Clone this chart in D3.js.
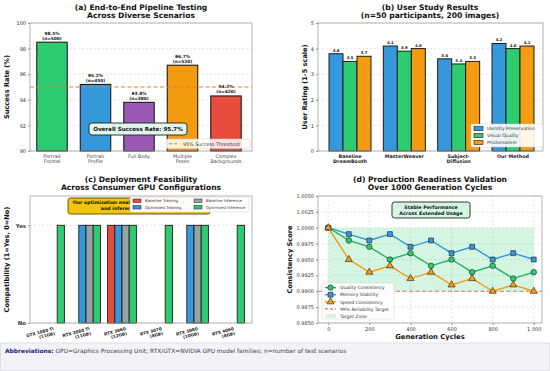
<!DOCTYPE html>
<html>
<head>
<meta charset="utf-8">
<script src="https://cdn.jsdelivr.net/npm/d3@7"></script>
<style>
  body { margin: 0; background: #fff; }
  text { font-family: "DejaVu Sans", sans-serif; }
</style>
</head>
<body>
<svg id="chart" width="550" height="371"></svg>
<script>
// ---- data ----
const scenarios = ['Portrait\nFrontal', 'Portrait\nProfile', 'Full Body', 'Multiple\nPoses', 'Complex\nBackgrounds'];
const successRates = [98.5, 95.2, 93.8, 96.7, 94.3];
const scenarioCounts = [500, 450, 380, 520, 420];
const scenarioColors = ['#2ecc71', '#3498db', '#9b59b6', '#f39c12', '#e74c3c'];
const successThreshold = 95;
const overallRate = 95.7;

const methods = ['Baseline\nDreamBooth', 'MasterWeaver', 'Subject-\nDiffusion', 'Our Method'];
const identityScores = [3.8, 4.1, 3.6, 4.2];
const visualScores = [3.5, 3.9, 3.4, 4.0];
const photoScores = [3.7, 4.0, 3.5, 4.1];

const gpus = ['GTX 1080 Ti\n(11GB)', 'RTX 2080 Ti\n(11GB)', 'RTX 3060\n(12GB)', 'RTX 3070\n(8GB)', 'RTX 3080\n(10GB)', 'RTX 4060\n(8GB)'];
const baselineTraining = [0, 0, 1, 0, 0, 0];
const optimizedTraining = [0, 1, 1, 0, 1, 0];
const baselineInference = [0, 1, 1, 0, 1, 0];
const optimizedInference = [1, 1, 1, 1, 1, 1];

const cycles = [0, 100, 200, 300, 400, 500, 600, 700, 800, 900, 1000];
const qualityConsistency = [1.0, 0.998, 0.997, 0.995, 0.996, 0.994, 0.995, 0.993, 0.994, 0.992, 0.993];
const memoryStability = [1.0, 0.999, 0.998, 0.999, 0.997, 0.998, 0.996, 0.997, 0.995, 0.996, 0.995];
const speedConsistency = [1.0, 0.995, 0.993, 0.994, 0.992, 0.993, 0.991, 0.992, 0.990, 0.991, 0.990];
const reliabilityTarget = 0.99;

const svg = d3.select('#chart');
const EDGE = '#1c1c1c';

// multi-line text helper
function multiText(g, x, y, str, lh, opts = {}) {
    const t = g.append('text')
        .attr('x', x).attr('y', y)
        .attr('text-anchor', opts.anchor || 'middle')
        .attr('font-size', opts.size || 5)
        .attr('font-weight', opts.weight || 'normal')
        .attr('fill', opts.fill || '#333');
    str.split('\n').forEach((line, i) => {
        t.append('tspan').attr('x', x).attr('dy', i === 0 ? 0 : lh).text(line);
    });
    return t;
}

function frame(g, b) {
    g.append('rect')
        .attr('x', b.x0).attr('y', b.y0)
        .attr('width', b.x1 - b.x0).attr('height', b.y1 - b.y0)
        .attr('fill', 'none').attr('stroke', '#a0a0a0').attr('stroke-width', 0.8);
}

function styleAxis(sel, size, bold) {
    sel.select('.domain').remove();
    sel.selectAll('.tick line').attr('stroke', '#555').attr('stroke-width', 0.6);
    sel.selectAll('.tick text')
        .attr('font-size', size)
        .attr('fill', '#333')
        .attr('font-weight', bold ? 'bold' : 'normal')
        .style('font-family', '"DejaVu Sans", sans-serif');
}

function title(g, cx, y, l1, l2) {
    multiText(g, cx, y, l1 + '\n' + l2, 8.6, { size: 7.6, weight: 'bold', fill: '#111' });
}

function yLabel(g, x, cy, str) {
    g.append('text')
        .attr('transform', `translate(${x},${cy}) rotate(-90)`)
        .attr('text-anchor', 'middle')
        .attr('font-size', 6.6).attr('font-weight', 'bold').attr('fill', '#111')
        .text(str);
}

// ---- (a) pipeline testing ----
{
    const b = { x0: 30, x1: 252, y0: 23, y1: 151 };
    const g = svg.append('g');
    const x = d3.scalePoint().domain(scenarios).range([52, 226]);
    const y = d3.scaleLinear().domain([90, 100]).range([b.y1, b.y0]);
    const bw = x.step() * 0.7;

    g.append('g').selectAll('line').data(y.ticks(5)).join('line')
        .attr('x1', b.x0).attr('x2', b.x1)
        .attr('y1', d => y(d)).attr('y2', d => y(d))
        .attr('stroke', '#ccc').attr('stroke-width', 0.5).attr('stroke-dasharray', '2,2');

    g.append('g').selectAll('rect').data(successRates).join('rect')
        .attr('x', (d, i) => x(scenarios[i]) - bw / 2)
        .attr('y', d => y(d))
        .attr('width', bw).attr('height', d => b.y1 - y(d))
        .attr('fill', (d, i) => scenarioColors[i])
        .attr('stroke', EDGE).attr('stroke-width', 1.1);

    successRates.forEach((d, i) => {
        multiText(g, x(scenarios[i]), y(d) - 7.5, `${d}%\n(n=${scenarioCounts[i]})`, 5,
            { size: 4.3, weight: 'bold', fill: '#111' });
    });

    g.append('line')
        .attr('x1', b.x0).attr('x2', b.x1)
        .attr('y1', y(successThreshold)).attr('y2', y(successThreshold))
        .attr('stroke', '#e67e22').attr('stroke-width', 1.1).attr('stroke-dasharray', '4,2.5');

    frame(g, b);
    const ya = g.append('g').attr('transform', `translate(${b.x0},0)`)
        .call(d3.axisLeft(y).tickValues(d3.range(90, 101, 2)).tickSize(2).tickPadding(2));
    styleAxis(ya, 5);

    scenarios.forEach(s => {
        multiText(g, x(s), b.y1 + 6.5, s, 5.6, { size: 4.8, fill: '#444' });
    });

    // overall box
    const ob = g.append('g').attr('transform', 'translate(138,129)');
    ob.append('rect').attr('x', -49).attr('y', -6).attr('width', 98).attr('height', 12).attr('rx', 3)
        .attr('fill', '#e3f6ec').attr('stroke', '#222').attr('stroke-width', 0.9);
    ob.append('text').attr('text-anchor', 'middle').attr('y', 2.2)
        .attr('font-size', 5.6).attr('font-weight', 'bold').attr('fill', '#111')
        .text(`Overall Success Rate: ${overallRate}%`);

    // legend
    const lg = g.append('g').attr('transform', 'translate(166,139)');
    lg.append('rect').attr('width', 84).attr('height', 9.5).attr('rx', 1.5)
        .attr('fill', 'rgba(255,255,255,0.85)').attr('stroke', '#ccc').attr('stroke-width', 0.5);
    lg.append('line').attr('x1', 3).attr('x2', 13).attr('y1', 4.8).attr('y2', 4.8)
        .attr('stroke', '#e67e22').attr('stroke-width', 1.1).attr('stroke-dasharray', '3,2');
    lg.append('text').attr('x', 17).attr('y', 6.6).attr('font-size', 4.8).attr('fill', '#333')
        .text('95% Success Threshold');

    title(g, 141, 9.5, '(a) End-to-End Pipeline Testing', 'Across Diverse Scenarios');
    yLabel(g, 9, (b.y0 + b.y1) / 2, 'Success Rate (%)');
}

// ---- (b) user study ----
{
    const b = { x0: 318, x1: 543, y0: 23, y1: 151 };
    const g = svg.append('g');
    const x = d3.scalePoint().domain(methods).range([350, 513]);
    const y = d3.scaleLinear().domain([0, 5]).range([b.y1, b.y0]);
    const bw = 14;
    const series = [
        { name: 'Identity Preservation', vals: identityScores, color: '#3498db' },
        { name: 'Visual Quality', vals: visualScores, color: '#2ecc71' },
        { name: 'Photorealism', vals: photoScores, color: '#f39c12' }
    ];

    g.append('g').selectAll('line').data(d3.range(0, 6)).join('line')
        .attr('x1', b.x0).attr('x2', b.x1)
        .attr('y1', d => y(d)).attr('y2', d => y(d))
        .attr('stroke', '#ccc').attr('stroke-width', 0.5).attr('stroke-dasharray', '2,2');

    series.forEach((s, si) => {
        const off = (si - 1) * bw;
        g.append('g').selectAll('rect').data(s.vals).join('rect')
            .attr('x', (d, i) => x(methods[i]) + off - bw / 2)
            .attr('y', d => y(d))
            .attr('width', bw).attr('height', d => b.y1 - y(d))
            .attr('fill', s.color).attr('stroke', EDGE).attr('stroke-width', 1);
        s.vals.forEach((d, i) => {
            g.append('text').attr('x', x(methods[i]) + off).attr('y', y(d) - 2)
                .attr('text-anchor', 'middle').attr('font-size', 3.8).attr('font-weight', 'bold')
                .attr('fill', '#111').text(d.toFixed(1));
        });
    });

    frame(g, b);
    const ya = g.append('g').attr('transform', `translate(${b.x0},0)`)
        .call(d3.axisLeft(y).ticks(5).tickSize(2).tickPadding(2));
    styleAxis(ya, 5);

    methods.forEach(m => {
        multiText(g, x(m), b.y1 + 6.5, m, 5.6, { size: 4.8, weight: 'bold', fill: '#222' });
    });

    const lg = g.append('g').attr('transform', 'translate(471,124)');
    lg.append('rect').attr('width', 72).attr('height', 23).attr('rx', 1.5)
        .attr('fill', 'rgba(255,255,255,0.9)').attr('stroke', '#ccc').attr('stroke-width', 0.5);
    series.forEach((s, i) => {
        lg.append('rect').attr('x', 3).attr('y', 2.6 + i * 7).attr('width', 9).attr('height', 4)
            .attr('fill', s.color).attr('stroke', EDGE).attr('stroke-width', 0.6);
        lg.append('text').attr('x', 16).attr('y', 6.4 + i * 7).attr('font-size', 4.6).attr('fill', '#333')
            .text(s.name);
    });

    title(g, 430, 9.5, '(b) User Study Results', '(n=50 participants, 200 images)');
    yLabel(g, 307, (b.y0 + b.y1) / 2, 'User Rating (1-5 scale)');
}

// ---- (c) deployment feasibility ----
{
    const b = { x0: 30, x1: 252, y0: 196, y1: 323 };
    const g = svg.append('g');
    const x = d3.scalePoint().domain(gpus).range([50, 230]);
    const y = d3.scaleLinear().domain([0, 1.3]).range([b.y1, b.y0]);
    const bw = x.step() * 0.2;
    const series = [
        { name: 'Baseline Training', vals: baselineTraining, color: '#e74c3c' },
        { name: 'Optimized Training', vals: optimizedTraining, color: '#3498db' },
        { name: 'Baseline Inference', vals: baselineInference, color: '#95a5a6' },
        { name: 'Optimized Inference', vals: optimizedInference, color: '#2ecc71' }
    ];

    g.append('g').selectAll('line').data([0, 1]).join('line')
        .attr('x1', b.x0).attr('x2', b.x1)
        .attr('y1', d => y(d)).attr('y2', d => y(d))
        .attr('stroke', '#ccc').attr('stroke-width', 0.5).attr('stroke-dasharray', '2,2');

    series.forEach((s, si) => {
        const off = (si - 1.5) * bw;
        const rows = s.vals.map((v, i) => ({ v, gpu: gpus[i] })).filter(d => d.v > 0);
        g.append('g').selectAll('rect').data(rows).join('rect')
            .attr('x', d => x(d.gpu) + off - bw / 2)
            .attr('y', d => y(d.v))
            .attr('width', bw).attr('height', d => b.y1 - y(d.v))
            .attr('fill', s.color).attr('stroke', EDGE).attr('stroke-width', 0.9);
    });

    frame(g, b);
    const ya = g.append('g').attr('transform', `translate(${b.x0},0)`)
        .call(d3.axisLeft(y).tickValues([0, 1]).tickFormat(d => d ? 'Yes' : 'No').tickSize(2).tickPadding(2));
    styleAxis(ya, 5.4, true);

    gpus.forEach(gp => {
        const tg = g.append('g').attr('transform', `translate(${x(gp) + 4},${b.y1 + 7}) rotate(-15)`);
        multiText(tg, 0, 0, gp, 4.8, { size: 4.2, weight: 'bold', fill: '#222', anchor: 'end' });
    });

    // annotation (partly hidden behind the legend, as in the source)
    const an = g.append('g');
    an.append('rect').attr('x', 68).attr('y', 198).attr('width', 142).attr('height', 16).attr('rx', 2.5)
        .attr('fill', '#f1c40f').attr('stroke', '#5a4a00').attr('stroke-width', 0.9);
    multiText(an, 139, 204.3, 'Our optimization enables training on 11GB+ GPUs\nand inference on 8GB+ GPUs', 6,
        { size: 4.7, weight: 'bold', fill: '#111' });

    // legend
    const lg = g.append('g').attr('transform', 'translate(130,197)');
    lg.append('rect').attr('width', 119).attr('height', 15).attr('rx', 1.5)
        .attr('fill', 'rgba(255,255,255,0.96)').attr('stroke', '#ccc').attr('stroke-width', 0.5);
    series.forEach((s, i) => {
        const cx = i < 2 ? 3 : 64;
        const cy = 2 + (i % 2) * 6.4;
        lg.append('rect').attr('x', cx).attr('y', cy).attr('width', 8).attr('height', 3.6)
            .attr('fill', s.color).attr('stroke', EDGE).attr('stroke-width', 0.5);
        lg.append('text').attr('x', cx + 12).attr('y', cy + 3.4).attr('font-size', 3.9).attr('fill', '#333')
            .text(s.name);
    });

    title(g, 141, 181.5, '(c) Deployment Feasibility', 'Across Consumer GPU Configurations');
    yLabel(g, 9, (b.y0 + b.y1) / 2, 'Compatibility (1=Yes, 0=No)');
}

// ---- (d) production readiness ----
{
    const b = { x0: 318, x1: 542, y0: 196, y1: 323 };
    const g = svg.append('g');
    const x = d3.scaleLinear().domain([-50, 1040]).range([b.x0, b.x1]);
    const y = d3.scaleLinear().domain([0.985, 1.005]).range([b.y1, b.y0]);
    const yTicks = d3.range(0, 9).map(i => 0.985 + i * 0.0025);
    const xTicks = d3.range(0, 1001, 200);

    g.append('g').selectAll('line').data(yTicks).join('line')
        .attr('x1', b.x0).attr('x2', b.x1)
        .attr('y1', d => y(d)).attr('y2', d => y(d))
        .attr('stroke', '#ccc').attr('stroke-width', 0.5).attr('stroke-dasharray', '2,2');
    g.append('g').selectAll('line').data(xTicks).join('line')
        .attr('y1', b.y0).attr('y2', b.y1)
        .attr('x1', d => x(d)).attr('x2', d => x(d))
        .attr('stroke', '#ccc').attr('stroke-width', 0.5).attr('stroke-dasharray', '2,2');

    g.append('rect')
        .attr('x', x(0)).attr('width', x(1000) - x(0))
        .attr('y', y(1.0)).attr('height', y(reliabilityTarget) - y(1.0))
        .attr('fill', '#2ecc71').attr('opacity', 0.2);

    g.append('line')
        .attr('x1', b.x0).attr('x2', b.x1)
        .attr('y1', y(reliabilityTarget)).attr('y2', y(reliabilityTarget))
        .attr('stroke', '#e74c3c').attr('stroke-width', 1).attr('stroke-dasharray', '4,2.5').attr('opacity', 0.8);

    const series = [
        { name: 'Quality Consistency', vals: qualityConsistency, color: '#27ae60', fill: '#2ecc71', shape: d3.symbolCircle, size: 24 },
        { name: 'Memory Stability', vals: memoryStability, color: '#3498db', fill: '#3498db', shape: d3.symbolSquare, size: 24 },
        { name: 'Speed Consistency', vals: speedConsistency, color: '#f39c12', fill: '#f39c12', shape: d3.symbolTriangle, size: 22 }
    ];
    const line = d3.line().x((d, i) => x(cycles[i])).y(d => y(d));
    series.forEach(s => {
        g.append('path').datum(s.vals).attr('d', line)
            .attr('fill', 'none').attr('stroke', s.color).attr('stroke-width', 1.4);
        g.append('g').selectAll('path').data(s.vals).join('path')
            .attr('transform', (d, i) => `translate(${x(cycles[i])},${y(d)})`)
            .attr('d', d3.symbol(s.shape, s.size))
            .attr('fill', s.fill).attr('stroke', EDGE).attr('stroke-width', 0.6);
    });

    frame(g, b);
    const ya = g.append('g').attr('transform', `translate(${b.x0},0)`)
        .call(d3.axisLeft(y).tickValues(yTicks).tickFormat(d3.format('.4f')).tickSize(2).tickPadding(2));
    styleAxis(ya, 5);
    const xa = g.append('g').attr('transform', `translate(0,${b.y1})`)
        .call(d3.axisBottom(x).tickValues(xTicks).tickSize(2).tickPadding(2));
    styleAxis(xa, 5);

    // annotation
    const an = g.append('g').attr('transform', 'translate(431,210)');
    an.append('rect').attr('x', -39).attr('y', -8).attr('width', 78).attr('height', 16).attr('rx', 2.5)
        .attr('fill', '#d5f5e3').attr('stroke', '#222').attr('stroke-width', 0.9);
    multiText(an, 0, -1.4, 'Stable Performance\nAcross Extended Usage', 6, { size: 4.8, weight: 'bold', fill: '#111' });

    // legend
    const lg = g.append('g').attr('transform', 'translate(322,283)');
    lg.append('rect').attr('width', 72).attr('height', 36).attr('rx', 1.5)
        .attr('fill', 'rgba(255,255,255,0.9)').attr('stroke', '#ccc').attr('stroke-width', 0.5);
    series.forEach((s, i) => {
        const cy = 4.6 + i * 7.1;
        lg.append('line').attr('x1', 3).attr('x2', 14).attr('y1', cy).attr('y2', cy)
            .attr('stroke', s.color).attr('stroke-width', 1.4);
        lg.append('path').attr('transform', `translate(8.5,${cy})`)
            .attr('d', d3.symbol(s.shape, s.size)).attr('fill', s.fill).attr('stroke', EDGE).attr('stroke-width', 0.6);
        lg.append('text').attr('x', 18).attr('y', cy + 1.7).attr('font-size', 4.5).attr('fill', '#333').text(s.name);
    });
    const ry = 4.6 + 3 * 7.1;
    lg.append('line').attr('x1', 3).attr('x2', 14).attr('y1', ry).attr('y2', ry)
        .attr('stroke', '#e74c3c').attr('stroke-width', 1).attr('stroke-dasharray', '3,2');
    lg.append('text').attr('x', 18).attr('y', ry + 1.7).attr('font-size', 4.5).attr('fill', '#333').text('99% Reliability Target');
    const zy = 4.6 + 4 * 7.1;
    lg.append('rect').attr('x', 3).attr('y', zy - 2).attr('width', 11).attr('height', 4)
        .attr('fill', '#2ecc71').attr('opacity', 0.2);
    lg.append('text').attr('x', 18).attr('y', zy + 1.7).attr('font-size', 4.5).attr('fill', '#333').text('Target Zone');

    title(g, 430, 181.5, '(d) Production Readiness Validation', 'Over 1000 Generation Cycles');
    yLabel(g, 292, (b.y0 + b.y1) / 2, 'Consistency Score');
    g.append('text').attr('x', (b.x0 + b.x1) / 2).attr('y', 338.5)
        .attr('text-anchor', 'middle').attr('font-size', 6.8).attr('font-weight', 'bold').attr('fill', '#111')
        .text('Generation Cycles');
}

// ---- footer ----
{
    const g = svg.append('g');
    g.append('rect').attr('x', 0.5).attr('y', 343).attr('width', 549).attr('height', 27.5)
        .attr('fill', '#f2f2f8').attr('stroke', '#d0d0dc').attr('stroke-width', 0.6);
    const t = g.append('text').attr('x', 5).attr('y', 352.5).attr('font-size', 5.9);
    t.append('tspan').attr('font-weight', 'bold').attr('fill', '#1a237e').text('Abbreviations:');
    t.append('tspan').attr('fill', '#444')
        .text(' GPU=Graphics Processing Unit; RTX/GTX=NVIDIA GPU model families; n=number of test scenarios');
}
</script>
</body>
</html>
